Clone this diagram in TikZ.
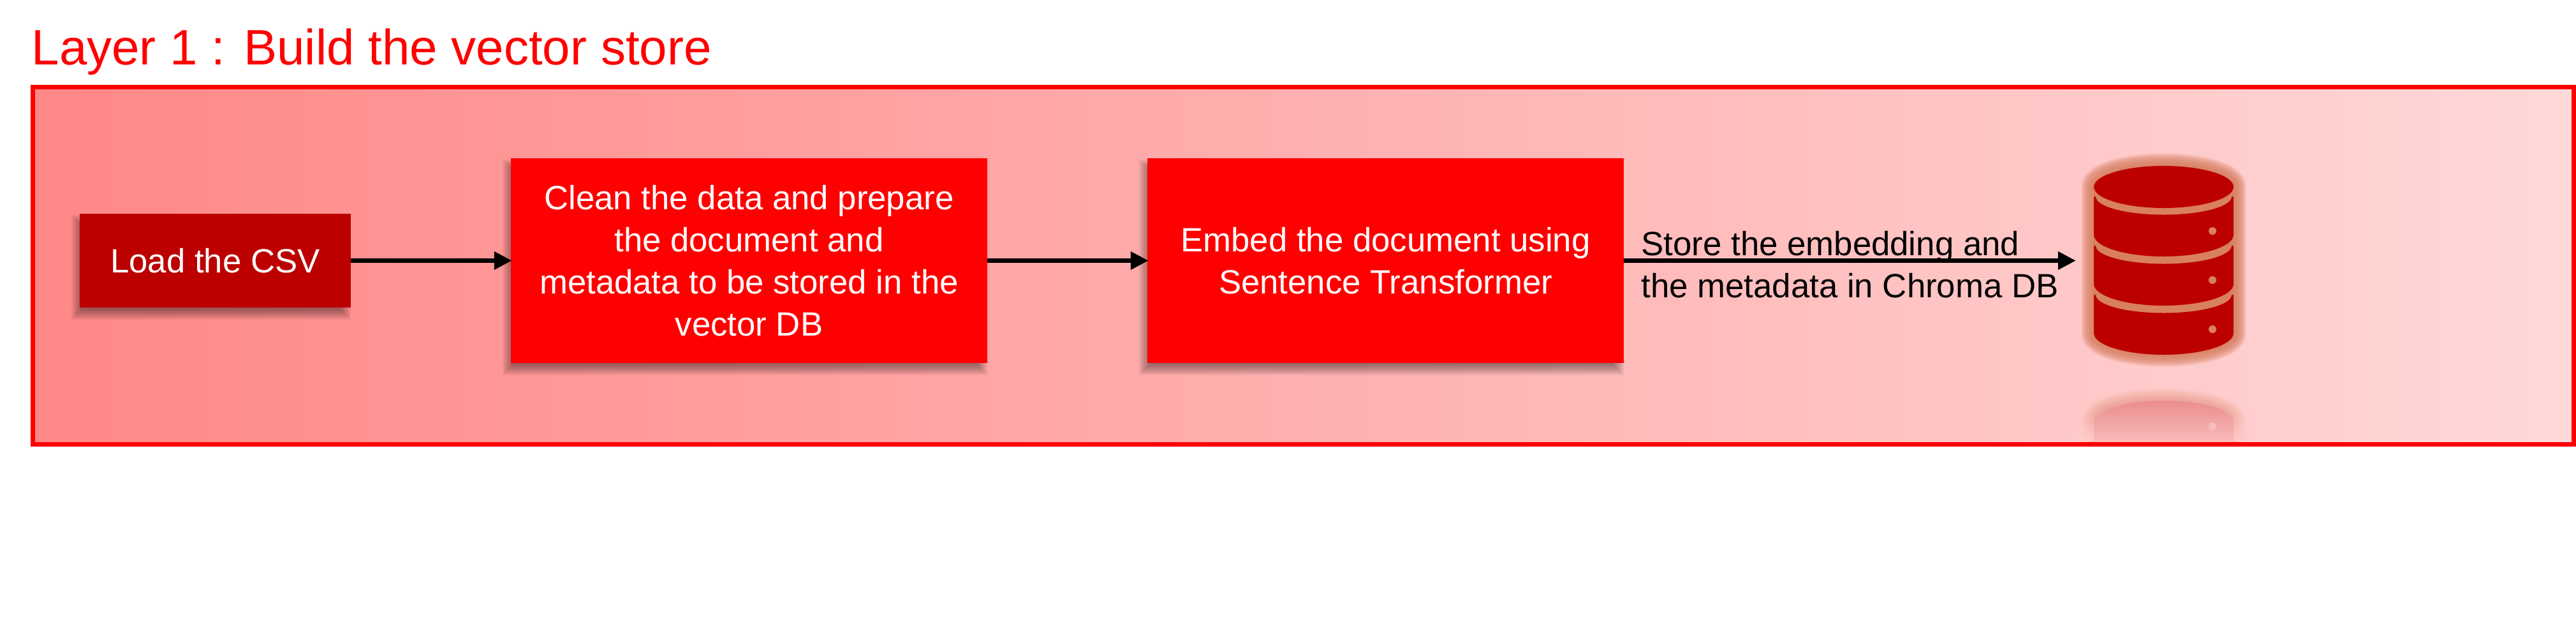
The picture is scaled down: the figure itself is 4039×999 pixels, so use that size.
\documentclass[tikz,border=0pt]{standalone}
\usepackage{fontspec}
\setmainfont{Liberation Sans}
\usetikzlibrary{arrows.meta,fadings,backgrounds}

\definecolor{panelleft}{HTML}{FF8787}
\definecolor{panelright}{HTML}{FFD8D8}
\definecolor{dbback}{HTML}{FFCBCB}
\definecolor{dbred}{HTML}{BC0000}
\definecolor{dbpeach}{HTML}{D98060}

\tikzfading[name=dbfade, top color=transparent!70, bottom color=transparent!92]
\tikzfading[name=dbcover, top color=transparent!100, bottom color=transparent!0]

\tikzset{
    stepbox/.style={fill=red, text=white, outer sep=0pt, inner sep=0pt, align=center,
        font=\fontsize{15}{18.8}\selectfont, minimum width=7.47cm, minimum height=3.21cm},
    loadbox/.style={stepbox, fill=dbred, minimum width=4.25cm, minimum height=1.47cm},
    flow/.style={line width=0.07cm, shorten >=-0.02cm, -{Triangle[length=0.28cm, width=0.27cm]}}
}

% soft shadow, left of and under a box
\newcommand{\softshadow}[1]{
    \foreach \d in {0,2,...,16} {
        \fill[black, opacity=0.05] ([shift={(-13+\d, 19-\d)}]#1.south west) rectangle ([shift={(-\d, 2+\d)}]#1.north east);
    }
}

\begin{document}
\begin{tikzpicture}[x=0.01cm, y=-0.01cm]
    \useasboundingbox (0, 0) rectangle (4039, 999);

    % Title
    \node[text=red, font=\fontsize{22.2}{26}\selectfont, anchor=base west, inner sep=0pt] (title) at (49, 101) {Layer 1 : Build the vector store};

    % Boxes
    \node[loadbox] (load) at (337.5, 408.5) {Load the CSV};
    \node[stepbox] (clean) at (1174.5, 408.5) {Clean the data and prepare\\the document and\\metadata to be stored in the\\vector DB};
    \node[stepbox] (embed) at (2172.5, 408.5) {Embed the document using\\Sentence Transformer};
    \node[minimum width=2.79cm, minimum height=3cm, outer sep=0pt, inner sep=0pt] (db) at (3392.5, 408.5) {};

    % Panel and shadows
    \begin{scope}[on background layer]
        \shade[left color=panelleft, right color=panelright] (51, 136) rectangle (4036, 696);
        \softshadow{load}
        \softshadow{clean}
        \softshadow{embed}
    \end{scope}

    % Store label and arrows
    \node[anchor=west, inner sep=0pt, align=left, font=\fontsize{15}{18.8}\selectfont] (storelbl) at (2573, 415) {Store the embedding and\\the metadata in Chroma DB};
    \draw[flow] (load.east) -- (clean.west);
    \draw[flow] (clean.east) -- (embed.west);
    \draw[flow] (embed.east) -- (db.west);

    % Database reflection
    \begin{scope}
        \clip (55, 140) rectangle (4032, 692);
        \foreach \w in {40,38,...,4} {
            \draw[line width=\w*0.01cm, dbpeach, opacity=0.022, line join=round] (3283, 661) arc[start angle=180, end angle=0, x radius=109.5, y radius=-33] -- (3502, 720) -- (3283, 720) -- cycle;
        }
        \fill[dbback, path fading=dbcover] (3250, 640) rectangle (3535, 692);
        \fill[dbback] (3283, 661) arc[start angle=180, end angle=0, x radius=109.5, y radius=-33] -- (3502, 693) -- (3283, 693) -- cycle;
        \fill[dbred, path fading=dbfade] (3283, 661) arc[start angle=180, end angle=0, x radius=109.5, y radius=-33] -- (3502, 693) -- (3283, 693) -- cycle;
        \fill[white, opacity=0.25] (3469, 668) circle[radius=6];
    \end{scope}

    % Database halo
    \foreach \w in {40,38,...,4} {
        \draw[line width=\w*0.01cm, dbpeach, opacity=0.1, line join=round] (3283, 293) arc[start angle=180, end angle=0, x radius=109.5, y radius=-33] -- (3502, 522) arc[start angle=0, end angle=180, x radius=109.5, y radius=33] -- cycle;
    }
    \fill[dbpeach] (3283, 293) arc[start angle=180, end angle=0, x radius=109.5, y radius=-33] -- (3502, 522) arc[start angle=0, end angle=180, x radius=109.5, y radius=33] -- cycle;

    % Database drums
    \foreach \y in {462,385,308} {
        \fill[dbred] (3283, \y) -- (3283, \y+60) arc[start angle=180, end angle=0, x radius=109.5, y radius=34] -- (3502, \y) -- cycle;
        \fill[dbpeach] (3286, \y) arc[start angle=180, end angle=0, x radius=106.5, y radius=28.5] -- cycle;
        \fill[dbpeach] (3469, \y+54) circle[radius=6];
    }
    \fill[dbred] (3392.5, 293) ellipse[x radius=109.5, y radius=33];

    % Panel frame
    \draw[red, line width=0.07cm] (51.5, 136.5) rectangle (4035.5, 696.5);
\end{tikzpicture}
\end{document}
